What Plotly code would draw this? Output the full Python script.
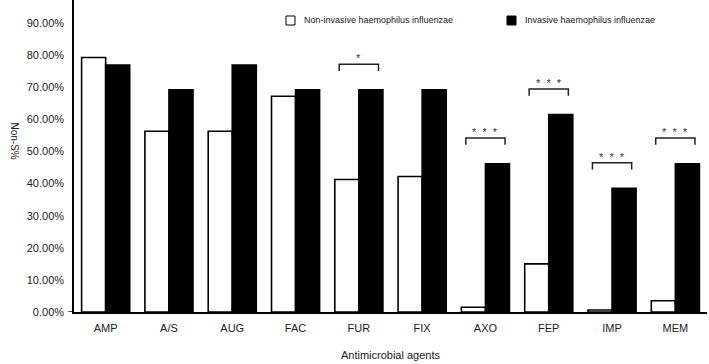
import plotly.graph_objects as go

categories = ["AMP", "A/S", "AUG", "FAC", "FUR", "FIX", "AXO", "FEP", "IMP", "MEM"]
non_invasive = [79.3, 56.3, 56.3, 67.2, 41.3, 42.2, 1.5, 15.0, 0.6, 3.5]
invasive = [76.9, 69.2, 76.9, 69.2, 69.2, 69.2, 46.2, 61.5, 38.5, 46.2]
series_names = ["Non-invasive haemophilus influenzae", "Invasive haemophilus influenzae"]
sig_categories = ["FUR", "AXO", "FEP", "IMP", "MEM"]
sig_labels = ["*", "*\u00a0\u00a0*\u00a0\u00a0*", "*\u00a0\u00a0*\u00a0\u00a0*", "*\u00a0\u00a0*\u00a0\u00a0*", "*\u00a0\u00a0*\u00a0\u00a0*"]
y_ticks = [0, 10, 20, 30, 40, 50, 60, 70, 80, 90]
y_tick_text = [f"{v:.2f}%" for v in y_ticks]

FONT = "Liberation Sans, Arial, sans-serif"

fig = go.Figure()
fig.add_trace(go.Bar(x=categories, y=non_invasive, name=series_names[0],
                     marker=dict(color="white", line=dict(color="black", width=1.6)),
                     showlegend=False))
fig.add_trace(go.Bar(x=categories, y=invasive, name=series_names[1],
                     marker=dict(color="black", line=dict(color="black", width=1.6)),
                     showlegend=False))

shapes = []
annotations = []
for cat, lab in zip(sig_categories, sig_labels):
    i = categories.index(cat)
    top = max(non_invasive[i], invasive[i]) + 8
    x0, x1 = i - 0.31, i + 0.31
    shapes.append(dict(type="path", xref="x", yref="y",
                       path=f"M {x0},{top-2.1} L {x0},{top} L {x1},{top} L {x1},{top-2.1}",
                       line=dict(color="#222", width=1.5)))
    annotations.append(dict(x=i, y=top, xref="x", yref="y", text=lab, showarrow=False,
                            yanchor="bottom", yshift=-2, font=dict(size=11, color="#333", family=FONT)))

# zero tick stub
shapes.append(dict(type="line", xref="paper", yref="y", x0=-0.009, x1=0, y0=0, y1=0,
                   line=dict(color="black", width=1.5)))

# manual legend
sq = 9
legend_items = [(286, "white", series_names[0]), (507, "black", series_names[1])]
for px, col, name in legend_items:
    shapes.append(dict(type="rect", xref="paper", yref="paper",
                       x0=(px - 74) / 633, x1=(px + sq - 74) / 633,
                       y0=(312 - 25) / 312, y1=(312 - 16) / 312,
                       fillcolor=col, line=dict(color="black", width=1)))
    annotations.append(dict(x=(px + sq + 7 - 74) / 633, y=(312 - 20.5) / 312, xref="paper", yref="paper",
                            text=name, showarrow=False, xanchor="left", yanchor="middle",
                            font=dict(size=9, color="#222", family=FONT)))

# y title (rotated clockwise)
annotations.append(dict(x=(6 - 74) / 633, y=(312 - 141) / 312, xref="paper", yref="paper",
                        text="Non-S%", showarrow=False, textangle=90,
                        font=dict(size=10, color="#222", family=FONT)))

fig.update_layout(
    width=709, height=364,
    margin=dict(l=74, r=2, t=0, b=52),
    paper_bgcolor="white", plot_bgcolor="white",
    barmode="group", bargap=0.24, bargroupgap=0,
    font=dict(family=FONT, size=11, color="#222"),
    shapes=shapes, annotations=annotations,
    xaxis=dict(showline=True, linecolor="black", linewidth=1.5, ticks="",
               ticklabelstandoff=5,
               tickfont=dict(size=11, color="#222"), showgrid=False,
               title=dict(text="Antimicrobial agents", font=dict(size=11, color="#222"), standoff=18)),
    yaxis=dict(range=[0, 97.2], showline=True, linecolor="black", linewidth=1.5,
               tickvals=y_ticks, ticktext=y_tick_text, ticks="",
               ticklabelstandoff=6,
               tickfont=dict(size=11, color="#222"), showgrid=False, zeroline=False),
)

fig.write_html("out.html", config={"displayModeBar": False},
               post_script="document.body.style.margin='0';")
